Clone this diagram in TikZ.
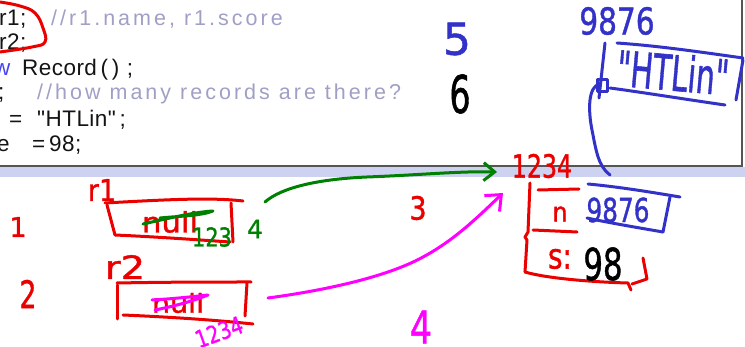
\documentclass[tikz,border=0pt]{standalone}
\usepackage{fontspec}
\usepackage{graphicx}
\setmainfont{Liberation Sans}
\newfontfamily\codefont[LetterSpace=2]{Liberation Sans}
\newfontfamily\commentfont[LetterSpace=14]{Liberation Sans}
\newfontfamily\hwfont[FakeBold=1.2]{DejaVu Sans}
\usetikzlibrary{arrows.meta}

\definecolor{inkred}{RGB}{235,0,0}
\definecolor{inkgreen}{RGB}{0,128,0}
\definecolor{inkblue}{RGB}{50,50,200}
\definecolor{inkmagenta}{RGB}{255,0,255}
\definecolor{keywordblue}{RGB}{70,70,240}
\definecolor{commentgray}{RGB}{160,160,198}
\definecolor{codeblack}{RGB}{20,20,20}
\definecolor{bandblue}{RGB}{205,210,240}
\definecolor{framegray}{RGB}{85,85,85}

% handwritten label: size, horizontal squeeze, text
\newcommand\hw[3]{{\hwfont\fontsize{#1}{#1}\selectfont\scalebox{#2}[1]{#3}}}

\tikzset{
  pen/.style={line width=3pt, line cap=round, line join=round},
  redpen/.style={pen, draw=inkred},
  bluepen/.style={pen, draw=inkblue},
  greenpen/.style={pen, draw=inkgreen},
  magpen/.style={pen, draw=inkmagenta},
  hwtext/.style={inner sep=0pt, anchor=center},
  code/.style={inner sep=0pt, anchor=base west, text=codeblack,
    font=\codefont\fontsize{22.5}{22.5}\selectfont},
  comment/.style={inner sep=0pt, anchor=base west, text=commentgray,
    font=\commentfont\fontsize{21.5}{21.5}\selectfont},
}

\begin{document}
\begin{tikzpicture}[x=1pt, y=1pt]
\useasboundingbox (0,0) rectangle (745,-347);
\clip (0,0) rectangle (745,-347);
\fill[white] (0,0) rectangle (745,-347);

% slide frame and its lower band
\fill[bandblue] (0,-167) rectangle (745,-177);
\draw[framegray, line width=2pt] (0,-166) -- (742,-166) -- (742,0);

% code lines
\node[code] (c1) at (-1,-26) {r1;};
\node[comment] (m1) at (51,-26) {//r1.name, r1.score};
\node[code] (c2) at (-1,-50) {r2;};
\node[code, text=keywordblue] (c3k) at (-6,-76) {w};
\node[code] (c3) at (22,-76) {Record\,(\,)\,\,;};
\node[code] (c4) at (-2,-100) {;};
\node[comment] (m4) at (37,-100) {//how many records are there?};
\node[code] (c5a) at (9,-127) {=};
\node[code] (c5) at (37,-127) {"HTLin"\,;};
\node[code] (c6a) at (-3,-152) {e};
\node[code] (c6b) at (32,-152) {=};
\node[code] (c6) at (49,-152) {98;};

% loop round the two declarations
\draw[redpen] plot[smooth, tension=0.7] coordinates
  {(0,-2) (20,-6) (35,-13) (43,-28) (45,-42) (32,-47) (0,-52)};

% step numbers
\node[hwtext, text=inkred] (s1) at (18,-227) {\hw{27}{1.0}{1}};
\node[hwtext, text=inkred] (s2) at (28,-294) {\hw{38}{0.7}{2}};
\node[hwtext, text=inkred] (s3) at (418,-208) {\hw{32}{0.85}{3}};
\node[hwtext, text=inkmagenta] (s4) at (421,-327) {\hw{45}{0.77}{4}};
\node[hwtext, text=inkblue] (s5) at (457,-39) {\hw{44}{1.0}{5}};
\node[hwtext, text=black] (s6) at (460,-94) {\hw{52}{0.64}{6}};

% variable r1
\node[hwtext, text=inkred] (r1) at (102,-190) {\hw{30}{0.9}{r1}};
\draw[redpen] (105,-203) .. controls (160,-200) and (210,-197) .. (243,-201);
\draw[redpen] (107,-205) -- (115,-235);
\draw[redpen] (115,-235) .. controls (160,-237) and (200,-240) .. (230,-242);
\draw[redpen] (231,-203) -- (233,-242);
\node[hwtext, text=inkred] (null1) at (170,-222) {\hw{28}{1.1}{null}};
\draw[greenpen] (143,-224) .. controls (170,-218) and (195,-212) .. (213,-211)
  .. controls (200,-216) and (180,-216) .. (160,-218);
\node[hwtext, text=inkgreen] (g123) at (212,-237) {\hw{26}{0.8}{123}};
\node[hwtext, text=inkgreen] (g4) at (255,-229) {\hw{25}{1.0}{4}};

% variable r2
\node[hwtext, text=inkred] (r2) at (125,-267) {\hw{32}{1.2}{r2}};
\draw[redpen] (117,-283) .. controls (170,-282) and (210,-282) .. (251,-282);
\draw[redpen] (117,-285) -- (117,-319);
\draw[redpen] (123,-315) .. controls (170,-317) and (215,-320) .. (253,-324);
\draw[redpen] (247,-283) -- (245,-316);
\node[hwtext, text=inkred] (null2) at (178,-303) {\hw{26}{1.1}{null}};
\draw[magpen] (152,-300) .. controls (170,-299) and (190,-297) .. (208,-295)
  .. controls (195,-300) and (180,-305) .. (155,-310);
\node[hwtext, text=inkmagenta, rotate=20] (m1234) at (219,-332) {\hw{24}{0.8}{1234}};

% the Record object at address 1234
\node[hwtext, text=inkred] (addr) at (542,-166) {\hw{32}{0.74}{1234}};
\draw[redpen] (530,-183) -- (528,-232) -- (525,-237) -- (527,-240) -- (525,-272);
\draw[redpen] (525,-272) .. controls (545,-278) and (590,-282) .. (628,-283) -- (631,-290);
\draw[redpen] (632,-284) -- (647,-279) -- (643,-258);
\draw[redpen] (538,-190) -- (579,-189);
\draw[redpen] (533,-230) -- (577,-232);
\node[hwtext, text=inkred] (fn) at (560,-214) {\hw{27}{0.88}{n}};
\node[hwtext, text=inkred] (fs) at (560,-259) {\hw{35}{0.8}{s:}};
\node[hwtext, text=black] (v98) at (603,-264) {\hw{44}{0.7}{98}};
\node[hwtext, text=inkblue] (ref) at (618,-210) {\hw{33}{0.75}{9876}};
\draw[bluepen] (588,-184) .. controls (620,-187) and (650,-192) .. (680,-197);
\draw[bluepen] (670,-197) -- (663,-232);
\draw[bluepen] (587,-218) .. controls (610,-223) and (640,-228) .. (663,-232);

% the String object at address 9876
\node[hwtext, text=inkblue] (saddr) at (617,-21) {\hw{37}{0.8}{9876}};
\node[hwtext, text=inkblue, rotate=-5] (str) at (673,-72) {\hw{49}{0.61}{"HTLin"}};
\draw[bluepen] (617,-43) .. controls (660,-46) and (700,-52) .. (743,-58);
\draw[bluepen] (605,-43) -- (599,-98);
\draw[bluepen] (743,-60) -- (736,-100);
\draw[bluepen] (725,-105) .. controls (690,-100) and (640,-92) .. (610,-88);
\draw[bluepen] (597,-80) rectangle (607,-92);

% link from the name field to the String
\coordinate (linkA) at (600,-84);
\coordinate (linkB) at (610,-175);
\draw[bluepen] (linkA) .. controls (588,-86) and (588,-110) .. (592,-130)
  .. controls (596,-150) and (598,-166) .. (linkB);

% r1 gets the address
\coordinate (gstart) at (265,-202);
\coordinate (gend) at (497,-172);
\draw[greenpen, -{Straight Barb[length=11pt, width=18pt]}] (gstart)
  .. controls (282,-187) and (320,-179) .. (367,-177)
  .. controls (420,-175) and (460,-171) .. (gend);

% r2 gets the same address
\coordinate (mstart) at (268,-298);
\coordinate (mend) at (503,-193);
\draw[magpen, -{Straight Barb[length=13pt, width=22pt]}] (mstart)
  .. controls (320,-291) and (385,-278) .. (423,-257)
  .. controls (455,-240) and (480,-215) .. (mend);
\end{tikzpicture}
\end{document}
